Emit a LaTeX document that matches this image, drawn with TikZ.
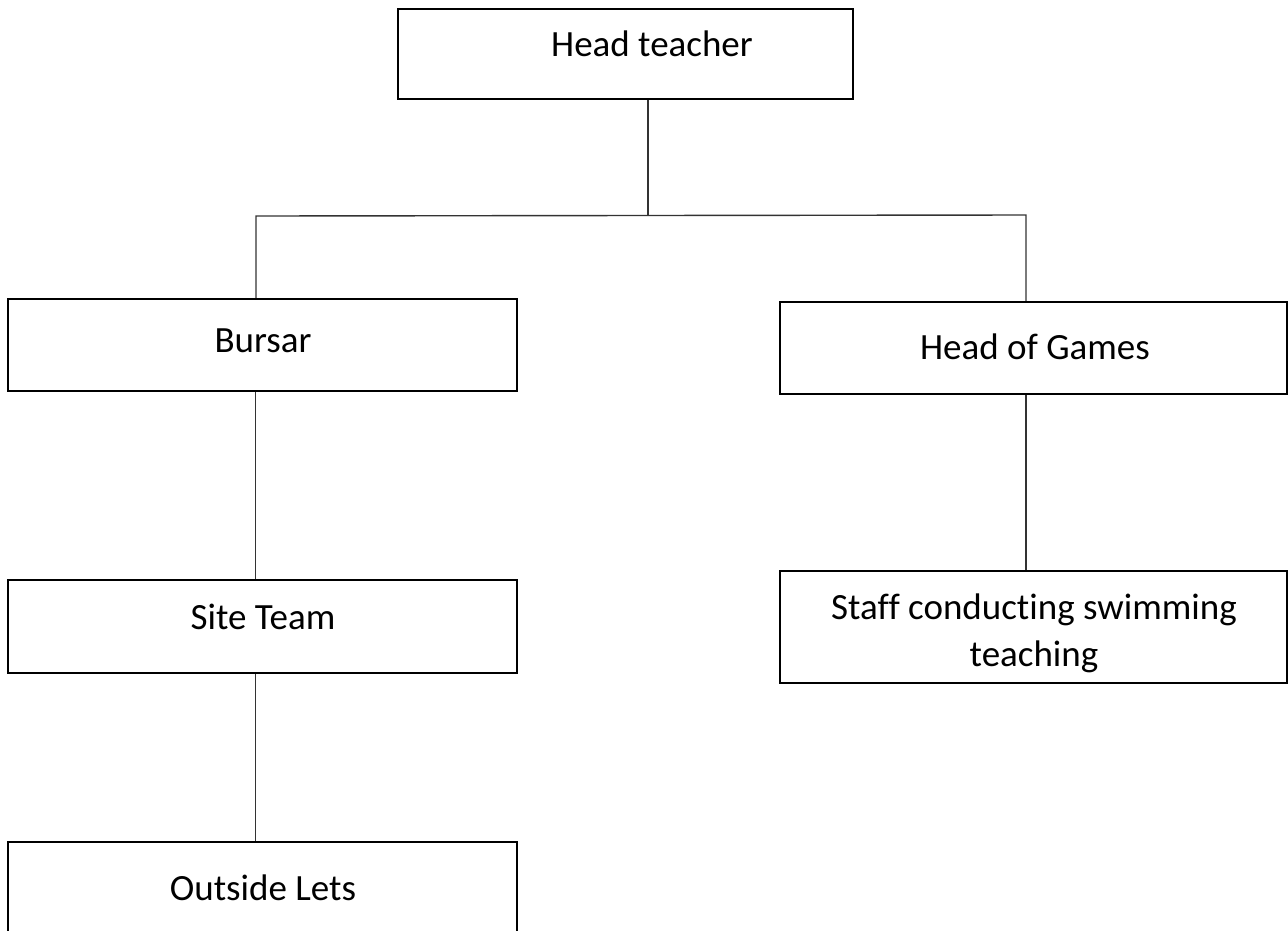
\documentclass[tikz,border=0pt]{standalone}
\usepackage{fontspec}
\setmainfont[Ligatures=NoCommon]{Carlito}
\begin{document}
\begin{tikzpicture}[x=1pt,y=-1pt,
  box/.style={draw=black,line width=2.4pt,rectangle,inner sep=0pt,fill=white},
  conn/.style={draw=black!80,line width=1.4pt},
  lbl/.style={font=\fontsize{37}{47}\selectfont,anchor=base,inner sep=0pt,text=black,align=center}]
\clip (0,0) rectangle (1288,930);
\fill[white] (0,0) rectangle (1288,930);
% boxes
\node[box,minimum width=455pt,minimum height=90pt] (ht) at (625.5,54) {};
\node[box,minimum width=509pt,minimum height=92pt] (bur) at (262.5,345) {};
\node[box,minimum width=509pt,minimum height=93pt] (site) at (262.5,626.5) {};
\node[box,minimum width=509pt,minimum height=110pt] (out) at (262.5,897) {};
\node[box,minimum width=507pt,minimum height=92pt] (hog) at (1033.5,348) {};
\node[box,minimum width=507pt,minimum height=112pt] (staff) at (1033.5,627) {};
% labels
\node[lbl] (tht) at (652,56) {Head teacher};
\node[lbl] (tbur) at (263,352) {Bursar};
\node[lbl] (tsite) at (263,629) {Site Team};
\node[lbl] (tout) at (263,900) {Outside Lets};
\node[lbl] (thog) at (1035,359) {Head of Games};
\node[lbl] (tstaff) at (1034,666) {Staff conducting swimming\\teaching};
% junction coordinates
\coordinate (j) at (648,216);
\coordinate (bl) at (256,216);
\coordinate (br) at (1026,215);
\coordinate (lc) at (255.5,0);
\coordinate (rc) at (1026,0);
% connectors
\draw[conn] (ht.south -| j) -- (j);
\draw[conn] (bur.north -| bl) -- (bl) -- (br) -- (hog.north -| br);
\draw[conn] (bur.south -| lc) -- (site.north -| lc);
\draw[conn] (site.south -| lc) -- (out.north -| lc);
\draw[conn] (hog.south -| rc) -- (staff.north -| rc);
\end{tikzpicture}
\end{document}
